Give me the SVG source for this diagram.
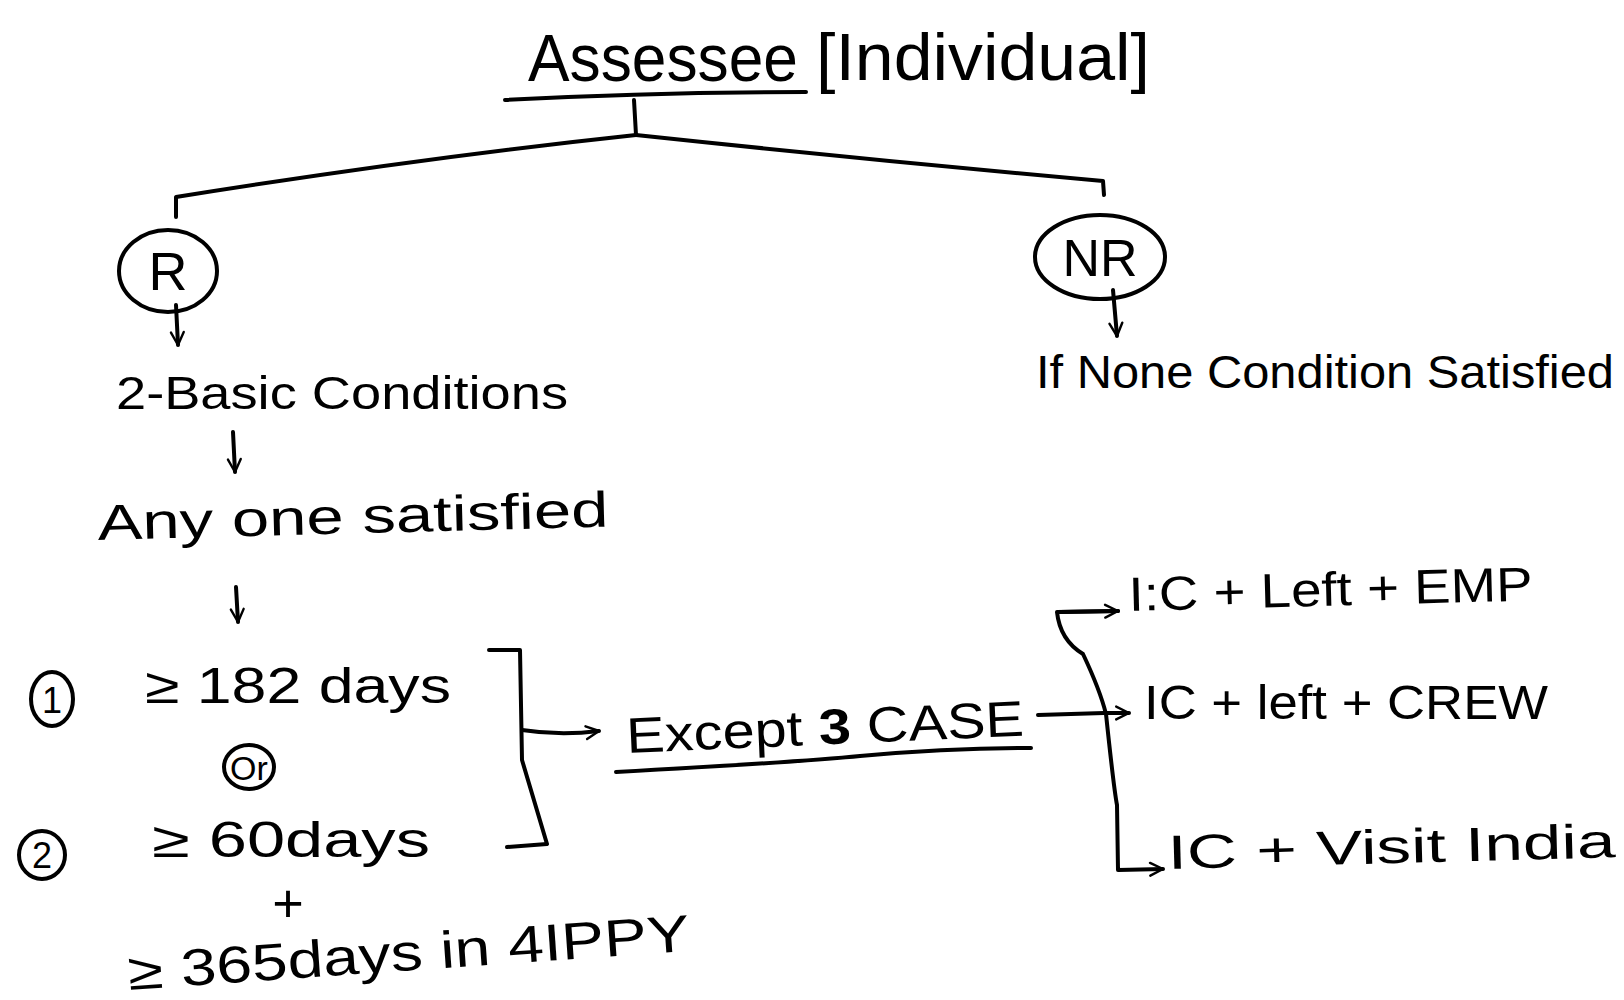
<svg xmlns="http://www.w3.org/2000/svg" width="1624" height="1000" viewBox="0 0 1624 1000">
  <style>
    .ink { fill: none; stroke: #000; stroke-width: 4; stroke-linecap: round; stroke-linejoin: round; }
    .txt { font-family: "Liberation Sans", "DejaVu Sans", sans-serif; fill: #000; }
  </style>
  <defs>
    <marker id="open" viewBox="0 0 20 20" refX="18" refY="10" markerWidth="16" markerHeight="16" markerUnits="userSpaceOnUse" orient="auto">
      <path d="M2,2 L18,10 L2,18" fill="none" stroke="#000" stroke-width="3" stroke-linecap="round" stroke-linejoin="round"/>
    </marker>
  </defs>
  <rect width="1624" height="1000" fill="#fff"/>

  <!-- connectors -->
  <g id="connectors" class="ink">
    <path d="M505,100 Q650,92 806,92"/>
    <path d="M634,100 L636,135"/>
    <path d="M636,135 Q420,158 176,197 L176,217"/>
    <path d="M636,135 Q870,160 1103,181 L1104,195"/>
    <path d="M176,305 L178,345" marker-end="url(#open)"/>
    <path d="M233,432 L235,472" marker-end="url(#open)"/>
    <path d="M236,587 L238,622" marker-end="url(#open)"/>
    <path d="M1113,290 L1117,336" marker-end="url(#open)"/>
    <!-- bracket joining the two conditions -->
    <path d="M489,650 L520,650 L522,760 L547,844 L507,847"/>
    <path d="M522,730 Q560,736 599,731" marker-end="url(#open)"/>
    <!-- underline of the exceptions -->
    <path d="M616,772 Q800,762 860,756 Q950,748 1031,748"/>
    <!-- fork to the three cases -->
    <path d="M1038,715 L1104,713 L1129,713" marker-end="url(#open)"/>
    <path d="M1118,611 L1057,612 Q1060,640 1083,654 Q1100,690 1106,714 Q1114,790 1117,805 L1118,870 L1163,869" marker-end="url(#open)"/>
    <path d="M1060,612 L1118,611" marker-end="url(#open)"/>
  </g>

  <!-- title -->
  <g id="assessee">
    <text class="txt" x="528" y="81" font-size="66" textLength="270" lengthAdjust="spacingAndGlyphs">Assessee</text>
    <text class="txt" x="816" y="80" font-size="66" textLength="334" lengthAdjust="spacingAndGlyphs">[Individual]</text>
  </g>

  <!-- resident branch -->
  <g id="node-r">
    <ellipse class="ink" cx="168" cy="271" rx="49" ry="41"/>
    <text class="txt" x="168" y="290" font-size="54" text-anchor="middle">R</text>
  </g>
  <g id="basic-conditions">
    <text class="txt" x="116" y="409" font-size="46" textLength="452" lengthAdjust="spacingAndGlyphs">2-Basic  Conditions</text>
  </g>
  <g id="any-one">
    <text class="txt" x="98" y="540" font-size="50" textLength="511" lengthAdjust="spacingAndGlyphs" transform="rotate(-1.5 98 540)">Any one  satisfied</text>
  </g>
  <g id="condition-1">
    <ellipse class="ink" cx="52" cy="699" rx="21" ry="27"/>
    <text class="txt" x="52" y="713" font-size="36" text-anchor="middle">1</text>
    <text class="txt" x="145" y="703" font-size="50" textLength="306" lengthAdjust="spacingAndGlyphs">≥ 182 days</text>
  </g>
  <g id="or">
    <ellipse class="ink" cx="249" cy="767" rx="25" ry="22"/>
    <text class="txt" x="249" y="780" font-size="34" text-anchor="middle">Or</text>
  </g>
  <g id="condition-2">
    <ellipse class="ink" cx="42" cy="855" rx="23" ry="24"/>
    <text class="txt" x="42" y="868" font-size="36" text-anchor="middle">2</text>
    <text class="txt" x="152" y="857" font-size="50" textLength="278" lengthAdjust="spacingAndGlyphs">≥ 60days</text>
    <text class="txt" x="288" y="922" font-size="54" text-anchor="middle">+</text>
    <text class="txt" x="129" y="990" font-size="52" textLength="563" lengthAdjust="spacingAndGlyphs" transform="rotate(-4 129 990)">≥ 365days in 4IPPY</text>
  </g>
  <g id="except">
    <text class="txt" x="627" y="753" font-size="50" textLength="398" lengthAdjust="spacingAndGlyphs" transform="rotate(-2.5 627 753)">Except <tspan font-weight="bold">3</tspan> CASE</text>
  </g>
  <g id="case-1">
    <text class="txt" x="1129" y="611" font-size="48" textLength="404" lengthAdjust="spacingAndGlyphs" transform="rotate(-1.5 1129 611)">I:C + Left + EMP</text>
  </g>
  <g id="case-2">
    <text class="txt" x="1144" y="719" font-size="48" textLength="404" lengthAdjust="spacingAndGlyphs">IC + left + CREW</text>
  </g>
  <g id="case-3">
    <text class="txt" x="1168" y="869" font-size="48" textLength="448" lengthAdjust="spacingAndGlyphs" transform="rotate(-1.5 1168 869)">IC + Visit India</text>
  </g>

  <!-- non-resident branch -->
  <g id="node-nr">
    <ellipse class="ink" cx="1100" cy="257" rx="65" ry="42"/>
    <text class="txt" x="1100" y="276" font-size="52" text-anchor="middle">NR</text>
  </g>
  <g id="none-satisfied">
    <text class="txt" x="1036" y="388" font-size="46" textLength="578" lengthAdjust="spacingAndGlyphs">If None Condition Satisfied</text>
  </g>
</svg>
